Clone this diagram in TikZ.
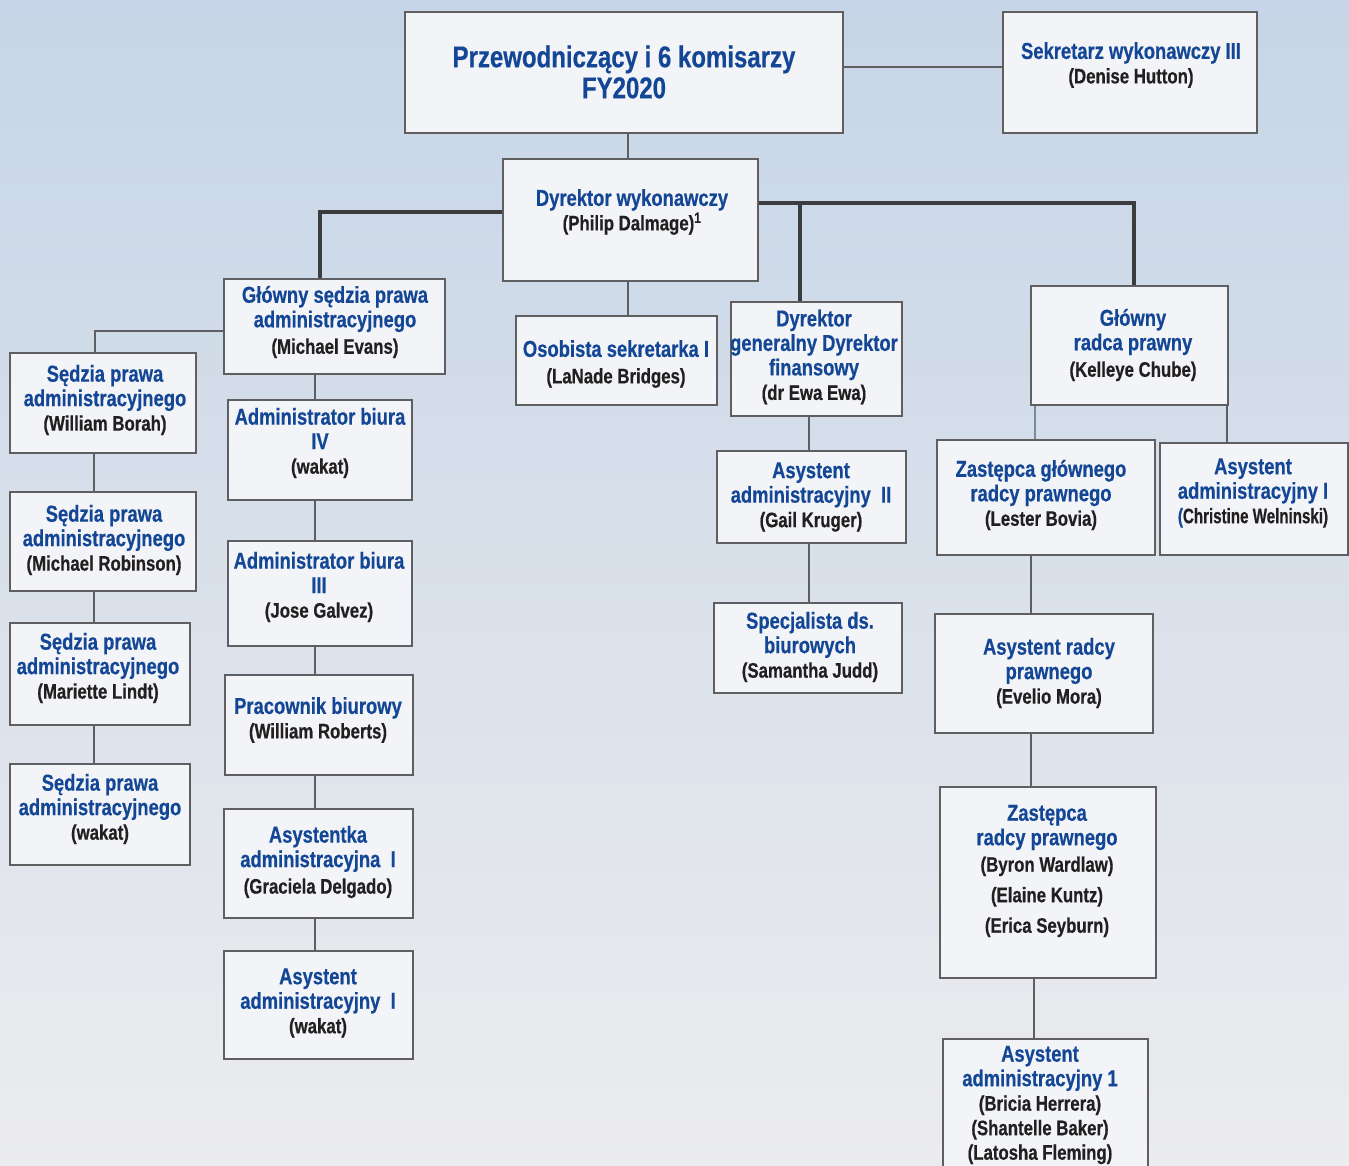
\documentclass[tikz,border=0pt]{standalone}
\usepackage{fontspec}
\setmainfont{Liberation Sans}[FakeStretch=0.8, BoldFeatures={FakeBold=0.5}]
\usepackage{tikz}
\usetikzlibrary{positioning,calc}
\usepackage{xcolor}
\definecolor{orgblue}{RGB}{20,70,150}
\definecolor{orgname}{RGB}{35,31,32}
\definecolor{orgline}{RGB}{95,95,98}
\definecolor{orgbus}{RGB}{60,60,62}
\definecolor{orgfill}{RGB}{242,244,248}
\definecolor{bgtop}{RGB}{198,213,231}
\definecolor{bgmid}{RGB}{222,228,236}
\definecolor{bgbot}{RGB}{236,236,238}
\tikzstyle{orgbox} = [rectangle, draw=orgline, fill=orgfill, line width=2pt, inner sep=0pt]
\tikzstyle{orgtext} = [align=center, inner sep=0pt, text=orgblue, font=\bfseries\fontsize{23}{24.5}\selectfont]
\tikzstyle{orglink} = [line width=1.6pt, color=orgline]
\tikzstyle{mainbus} = [line width=4pt, color=orgbus]
\newcommand{\nm}[1]{{\color{orgname}\fontsize{21}{24}\selectfont #1}}

\begin{document}
\begin{tikzpicture}[x=1pt, y=-1pt]
% Background
\fill[top color=bgtop, middle color=bgmid, bottom color=bgbot] (0,0) rectangle (1349,1166);
\clip (0,0) rectangle (1349,1166);

% Boxes
\node[orgbox, minimum width=438pt, minimum height=121pt] (chair) at (624,72.5) {};
\node[orgbox, minimum width=254pt, minimum height=121pt] (sec3) at (1130,72.5) {};
\node[orgbox, minimum width=255pt, minimum height=122pt] (exec) at (630.5,220) {};
\node[orgbox, minimum width=221pt, minimum height=95pt] (gjudge) at (334.5,326.5) {};
\node[orgbox, minimum width=186pt, minimum height=100pt] (borah) at (103,403) {};
\node[orgbox, minimum width=186pt, minimum height=99pt] (robinson) at (103,541.5) {};
\node[orgbox, minimum width=180pt, minimum height=102pt] (lindt) at (100,674) {};
\node[orgbox, minimum width=180pt, minimum height=101pt] (judgew) at (100,814.5) {};
\node[orgbox, minimum width=184pt, minimum height=100pt] (adm4) at (320,450) {};
\node[orgbox, minimum width=184pt, minimum height=105pt] (adm3) at (320,593.5) {};
\node[orgbox, minimum width=188pt, minimum height=100pt] (clerk) at (319,725) {};
\node[orgbox, minimum width=189pt, minimum height=109pt] (asstf) at (318.5,863.5) {};
\node[orgbox, minimum width=189pt, minimum height=108pt] (asstw) at (318.5,1005) {};
\node[orgbox, minimum width=201pt, minimum height=89pt] (psec) at (616.5,360.5) {};
\node[orgbox, minimum width=171pt, minimum height=114pt] (cfo) at (816.5,359) {};
\node[orgbox, minimum width=189pt, minimum height=92pt] (asst2) at (811.5,497) {};
\node[orgbox, minimum width=188pt, minimum height=90pt] (spec) at (808,648) {};
\node[orgbox, minimum width=197pt, minimum height=119pt] (radca) at (1129.5,345.5) {};
\node[orgbox, minimum width=218pt, minimum height=115pt] (zgl) at (1046,497.5) {};
\node[orgbox, minimum width=188pt, minimum height=112pt] (chris) at (1254,499) {};
\node[orgbox, minimum width=218pt, minimum height=119pt] (asr) at (1044,673.5) {};
\node[orgbox, minimum width=216pt, minimum height=191pt] (zr) at (1048,882.5) {};
\node[orgbox, minimum width=205pt, minimum height=151pt] (asst1) at (1045.5,1114.5) {};

% Texts
\node[orgtext, font=\bfseries\fontsize{30}{31}\selectfont] (chair-t) at (624,72) {Przewodniczący i 6 komisarzy\\FY2020};
\node[orgtext] (sec3-t) at (1131,65) {Sekretarz wykonawczy III\\\nm{(Denise Hutton)}};
\node[orgtext] (exec-t) at (632,212) {Dyrektor wykonawczy\\\nm{(Philip Dalmage)\textsuperscript{1}}};
\node[orgtext] (gjudge-t) at (335,322) {Główny sędzia prawa\\administracyjnego\\[2pt]\nm{(Michael Evans)}};
\node[orgtext] (borah-t) at (105,400) {Sędzia prawa\\administracyjnego\\\nm{(William Borah)}};
\node[orgtext] (robinson-t) at (104,540) {Sędzia prawa\\administracyjnego\\\nm{(Michael Robinson)}};
\node[orgtext] (lindt-t) at (98,668) {Sędzia prawa\\administracyjnego\\\nm{(Mariette Lindt)}};
\node[orgtext] (judgew-t) at (100,809) {Sędzia prawa\\administracyjnego\\\nm{(wakat)}};
\node[orgtext] (adm4-t) at (320,443) {Administrator biura\\IV\\\nm{(wakat)}};
\node[orgtext] (adm3-t) at (319,587) {Administrator biura\\III\\\nm{(Jose Galvez)}};
\node[orgtext] (clerk-t) at (318,720) {Pracownik biurowy\\\nm{(William Roberts)}};
\node[orgtext] (asstf-t) at (318,862) {Asystentka\\administracyjna~~I\\[2pt]\nm{(Graciela Delgado)}};
\node[orgtext] (asstw-t) at (318,1003) {Asystent\\administracyjny~~I\\\nm{(wakat)}};
\node[orgtext] (psec-t) at (616,364) {Osobista sekretarka I\\[2pt]\nm{(LaNade Bridges)}};
\node[orgtext] (cfo-t) at (814,357) {Dyrektor\\generalny Dyrektor\\finansowy\\\nm{(dr Ewa Ewa)}};
\node[orgtext] (asst2-t) at (811,497) {Asystent\\administracyjny~~II\\\nm{(Gail Kruger)}};
\node[orgtext] (spec-t) at (810,647) {Specjalista ds.\\biurowych\\\nm{(Samantha Judd)}};
\node[orgtext] (radca-t) at (1133,345) {Główny\\radca prawny\\[2pt]\nm{(Kelleye Chube)}};
\node[orgtext] (zgl-t) at (1041,495) {Zastępca głównego\\radcy prawnego\\\nm{(Lester Bovia)}};
\node[orgtext] (chris-t) at (1253,493) {Asystent\\administracyjny I\\\nm{\addfontfeature{FakeStretch=0.72}{\color{orgblue}(}Christine Welninski)}};
\node[orgtext] (asr-t) at (1049,673) {Asystent radcy\\prawnego\\\nm{(Evelio Mora)}};
\node[orgtext] (zr-t) at (1047,871) {Zastępca\\radcy prawnego\\[2pt]\nm{(Byron Wardlaw)}\\[6pt]\nm{(Elaine Kuntz)}\\[6pt]\nm{(Erica Seyburn)}};
\node[orgtext] (asst1-t) at (1040,1105) {Asystent\\administracyjny 1\\\nm{(Bricia Herrera)}\\\nm{(Shantelle Baker)}\\\nm{(Latosha Fleming)}};

% Thin links
\draw[orglink] (chair.east |- 0,67) -- (sec3.west |- 0,67);
\draw[orglink] (628,0 |- chair.south) -- (628,0 |- exec.north);
\draw[orglink] (628,0 |- exec.south) -- (628,0 |- psec.north);
\draw[orglink] (gjudge.west |- 0,331) -| (95,0 |- borah.north);
\draw[orglink] (94,0 |- borah.south) -- (94,0 |- robinson.north);
\draw[orglink] (94,0 |- robinson.south) -- (94,0 |- lindt.north);
\draw[orglink] (94,0 |- lindt.south) -- (94,0 |- judgew.north);
\draw[orglink] (315,0 |- gjudge.south) -- (315,0 |- adm4.north);
\draw[orglink] (315,0 |- adm4.south) -- (315,0 |- adm3.north);
\draw[orglink] (315,0 |- adm3.south) -- (315,0 |- clerk.north);
\draw[orglink] (315,0 |- clerk.south) -- (315,0 |- asstf.north);
\draw[orglink] (315,0 |- asstf.south) -- (315,0 |- asstw.north);
\draw[orglink] (809,0 |- cfo.south) -- (809,0 |- asst2.north);
\draw[orglink] (809,0 |- asst2.south) -- (809,0 |- spec.north);
\draw[orglink, color=orgline!60!orgblue!70] (1035,0 |- radca.south) -- (1035,0 |- zgl.north);
\draw[orglink] (1227,0 |- radca.south) -- (1227,0 |- chris.north);
\draw[orglink] (1031,0 |- zgl.south) -- (1031,0 |- asr.north);
\draw[orglink] (1031,0 |- asr.south) -- (1031,0 |- zr.north);
\draw[orglink] (1034,0 |- zr.south) -- (1034,0 |- asst1.north);

% Main bus
\coordinate (jcfo) at (800,203);
\draw[mainbus] (exec.west |- 0,212) -| (320,0 |- gjudge.north);
\draw[mainbus] (exec.east |- 0,203) -| (1134,0 |- radca.north);
\draw[mainbus] (jcfo) -- (jcfo |- cfo.north);
\end{tikzpicture}
\end{document}
